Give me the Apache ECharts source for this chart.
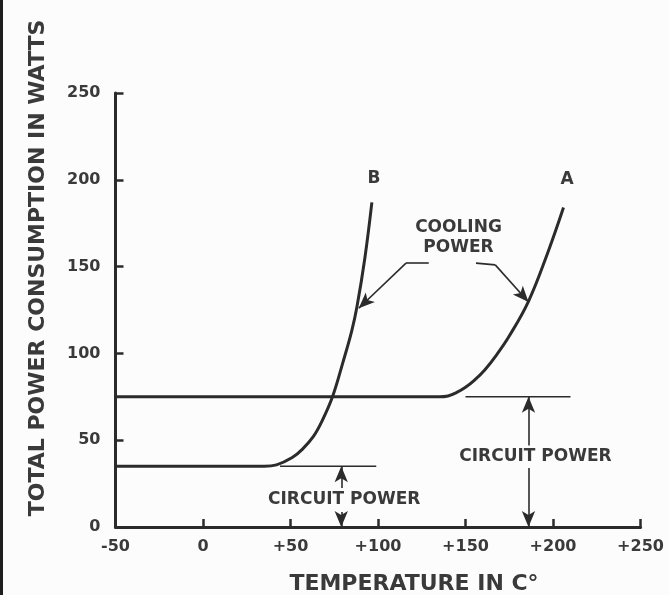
<!DOCTYPE html>
<html>
<head>
<meta charset="utf-8">
<script src="https://cdn.jsdelivr.net/npm/echarts@6/dist/echarts.min.js"></script>
<style>
  html, body { margin: 0; padding: 0; background: #fcfcfc; }
  #chart { width: 669px; height: 595px; }
</style>
</head>
<body>
<div id="chart"></div>
<script>
// Temperature axis ticks and their printed labels
const tempTicks = [-50, 0, 50, 100, 150, 200, 250];
const tempTickLabels = ['-50', '0', '+50', '+100', '+150', '+200', '+250'];
const powerTicks = [0, 50, 100, 150, 200, 250];

// Total power consumption (W) versus temperature (°C)
const curveA = [[-50, 75], [135, 75], [140, 75.5], [145, 77.5], [150, 80.5], [155, 84.5],
                [161, 90.5], [168, 99.5], [175, 110], [186, 130], [197, 158], [206, 184]];
const curveB = [[-50, 35], [35, 35], [42, 35.8], [51, 40], [57, 45], [63, 52], [68, 61],
                [74, 75], [80, 95], [85, 113], [88, 127], [92.5, 155], [96.5, 187]];

// Circuit power reference lines
const circuitLineA = [[150, 75], [210, 75]];
const circuitLineB = [[44, 35], [99, 35]];
// Circuit power dimension arrows: [temperature, from, to]
const circuitArrowsA = [[186, 47, 75], [186, 34, 0]];
const circuitArrowsB = [[79, 22.5, 35], [79, 8.6, 0]];

// Cooling power leaders
const leaderB = [[129, 152], [116, 152], [89, 126]];
const leaderA = [[156, 152], [167, 151], [186, 129.6]];

// Text annotations placed in data coordinates
const notes = [
  { name: 'B', coord: [97.7, 200.5] },
  { name: 'A', coord: [208, 200] },
  { name: 'COOLING\nPOWER', coord: [146, 166.5] },
  { name: 'CIRCUIT POWER', coord: [80.7, 15.6] },
  { name: 'CIRCUIT POWER', coord: [190, 40.3] }
];

const ink = '#2b2b2b';
const textInk = '#3a3a3a';
const fontFam = '"DejaVu Sans", sans-serif';

function segment(p, q, arrow) {
  return [
    { coord: p, symbol: 'none' },
    { coord: q, symbol: arrow ? 'arrow' : 'none' }
  ];
}

const markLines = [];
circuitArrowsA.concat(circuitArrowsB).forEach(a => {
  markLines.push(segment([a[0], a[1]], [a[0], a[2]], true));
});
[leaderA, leaderB].forEach(l => {
  markLines.push(segment(l[0], l[1], false));
  markLines.push(segment(l[1], l[2], true));
});

const chart = echarts.init(document.getElementById('chart'), null, { renderer: 'canvas' });

chart.setOption({
  backgroundColor: '#fcfcfc',
  animation: false,
  grid: { left: 115.5, right: 28.5, top: 93, bottom: 68 },
  xAxis: {
    type: 'value', min: -50, max: 250, interval: 50,
    axisLine: { onZero: false, lineStyle: { color: ink, width: 3 } },
    axisTick: { inside: true, length: 8, lineStyle: { color: ink, width: 2.5 } },
    splitLine: { show: false },
    axisLabel: {
      margin: 12, color: textInk, fontFamily: fontFam, fontWeight: 'bold', fontSize: 16,
      formatter: v => tempTickLabels[tempTicks.indexOf(v)]
    }
  },
  yAxis: {
    type: 'value', min: 0, max: 250, interval: 50,
    axisLine: { show: true, onZero: false, lineStyle: { color: ink, width: 3 } },
    axisTick: { show: true, inside: true, length: 8, lineStyle: { color: ink, width: 2.5 } },
    splitLine: { show: false },
    axisLabel: {
      margin: 15, color: textInk, fontFamily: fontFam, fontWeight: 'bold', fontSize: 16,
      formatter: v => powerTicks.indexOf(v) >= 0 ? String(v) : ''
    }
  },
  series: [
    {
      name: 'A', type: 'line', data: curveA, showSymbol: false,
      smooth: 0.4,
      lineStyle: { color: ink, width: 3 }, silent: true,
      markLine: {
        silent: true, symbolSize: [10, 16],
        label: { show: false },
        lineStyle: { color: ink, width: 1.6, type: 'solid' },
        emphasis: { disabled: true },
        data: markLines
      },
      markPoint: {
        silent: true, symbol: 'circle', symbolSize: 0,
        label: {
          show: true, position: 'inside', formatter: '{b}',
          color: textInk, fontFamily: fontFam, fontWeight: 'bold', fontSize: 17, lineHeight: 20
        },
        data: notes
      }
    },
    {
      name: 'B', type: 'line', data: curveB, showSymbol: false,
      smooth: 0.4,
      lineStyle: { color: ink, width: 3 }, silent: true
    },
    {
      name: 'circuit A', type: 'line', data: circuitLineA, showSymbol: false,
      lineStyle: { color: ink, width: 1.6 }, silent: true
    },
    {
      name: 'circuit B', type: 'line', data: circuitLineB, showSymbol: false,
      lineStyle: { color: ink, width: 1.6 }, silent: true
    }
  ],
  graphic: [
    { type: 'rect', left: 0, top: 0, shape: { width: 3, height: 595 }, style: { fill: '#1e1e1e' }, silent: true },
    {
      type: 'text', x: 38, y: 268, rotation: Math.PI / 2, silent: true,
      style: {
        text: 'TOTAL POWER CONSUMPTION IN WATTS', fill: textInk,
        font: 'bold 22px "DejaVu Sans", sans-serif', align: 'center', verticalAlign: 'middle'
      }
    },
    {
      type: 'text', x: 414, y: 584, silent: true,
      style: {
        text: 'TEMPERATURE IN C°', fill: textInk,
        font: 'bold 22px "DejaVu Sans", sans-serif', align: 'center', verticalAlign: 'middle'
      }
    }
  ]
});
</script>
</body>
</html>
